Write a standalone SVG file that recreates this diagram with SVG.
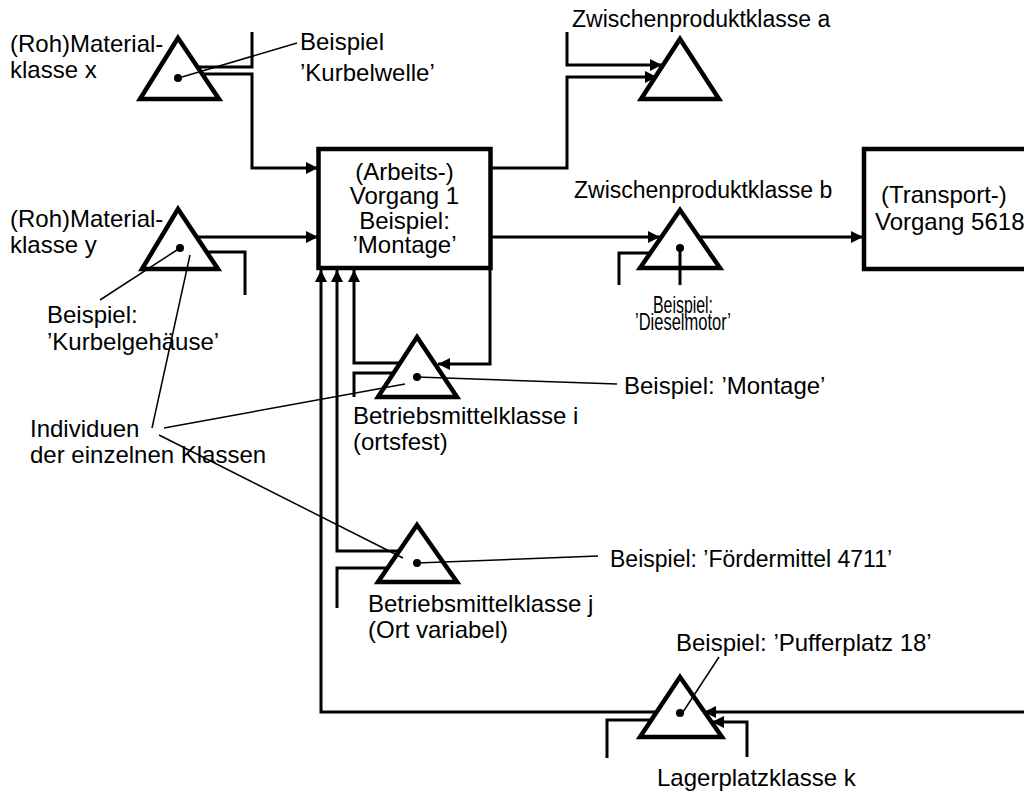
<svg xmlns="http://www.w3.org/2000/svg" width="1024" height="791" viewBox="0 0 1024 791">
<style>
text { font-family: "Liberation Sans", Arial, sans-serif; font-size: 24px; fill: #000; }
.s23 { font-size: 23px; }
.tri { fill: #fff; stroke: #000; stroke-width: 4.5; stroke-linejoin: miter; }
.box { fill: #fff; stroke: #000; stroke-width: 4.5; }
.conn { fill: none; stroke: #000; stroke-width: 3; }
.arr { marker-end: url(#ah); }
.lead { fill: none; stroke: #000; stroke-width: 1.5; }
.dot { fill: #000; }
.mid { text-anchor: middle; }
</style>
<defs>
<marker id="ah" markerWidth="12" markerHeight="12" refX="12" refY="6" orient="auto" markerUnits="userSpaceOnUse">
<path d="M0,0 L12,6 L0,12 z" fill="#000"/>
</marker>
</defs>
<rect width="1024" height="791" fill="#fff"/>

<g id="node-material-x">
<polygon class="tri" points="178,38 219,99 140,99"/>
<text x="10" y="52">(Roh)Material-</text>
<text x="10" y="78">klasse x</text>
</g>

<g id="node-material-y">
<polygon class="tri" points="178,209 218,269 142,269"/>
<text x="10" y="227">(Roh)Material-</text>
<text x="10" y="253">klasse y</text>
</g>

<g id="node-vorgang-1">
<rect class="box" x="318.5" y="149" width="172" height="119"/>
<text class="mid" x="404.5" y="180">(Arbeits-)</text>
<text class="mid" x="404.5" y="204">Vorgang 1</text>
<text class="mid" x="404.5" y="229">Beispiel:</text>
<text class="mid" x="404.5" y="253">’Montage’</text>
</g>

<g id="node-zwischen-a">
<polygon class="tri" points="680,39 719,99 641,99"/>
<text class="s23" x="572" y="27">Zwischenproduktklasse a</text>
</g>

<g id="node-zwischen-b">
<polygon class="tri" points="680,210 720,268 640,268"/>
<text class="s23" x="574" y="198">Zwischenproduktklasse b</text>
</g>

<g id="node-vorgang-5618">
<rect class="box" x="864" y="149" width="200" height="120"/>
<text x="881" y="203">(Transport-)</text>
<text x="875" y="230">Vorgang 5618</text>
</g>

<g id="node-betriebsmittel-i">
<polygon class="tri" points="417,337 457,397 378,397"/>
<text x="353" y="424">Betriebsmittelklasse i</text>
<text x="353" y="450">(ortsfest)</text>
</g>

<g id="node-betriebsmittel-j">
<polygon class="tri" points="417,525 457,582 378,582"/>
<text x="368" y="612">Betriebsmittelklasse j</text>
<text x="368" y="638">(Ort variabel)</text>
</g>

<g id="node-lagerplatz-k">
<polygon class="tri" points="680,677 722,737 640,737"/>
<text x="657" y="786">Lagerplatzklasse k</text>
</g>

<g id="connectors">
<path class="conn" d="M252,32 V67 H198"/>
<path class="conn arr" d="M202,74 H252 V168 H318"/>
<path class="conn arr" d="M197,237 H318"/>
<path class="conn" d="M207,252 H245 V295"/>
<path class="conn arr" d="M491,168 H567 V77 H657"/>
<path class="conn arr" d="M567,32 V65 H662"/>
<path class="conn arr" d="M491,237 H660"/>
<path class="conn arr" d="M699,237 H863"/>
<path class="conn" d="M650,253 H619 V285"/>
<path class="conn" d="M680,248 V285"/>
<path class="conn arr" d="M657,712 H321 V270"/>
<path class="conn arr" d="M399,551 H337 V270"/>
<path class="conn arr" d="M400,363 H354 V270"/>
<path class="conn arr" d="M490,268 V364 H438"/>
<path class="conn" d="M393,373 H354 V397"/>
<path class="conn" d="M387,568 H337 V608"/>
<path class="conn arr" d="M1024,712 H704"/>
<path class="conn arr" d="M747,757 V722 H712"/>
<path class="conn" d="M651,720 H607 V758"/>
</g>

<g id="examples">
<circle class="dot" cx="178" cy="78" r="4"/>
<circle class="dot" cx="180" cy="248" r="4"/>
<circle class="dot" cx="680" cy="248" r="4"/>
<circle class="dot" cx="417" cy="377" r="4"/>
<circle class="dot" cx="417" cy="563" r="4"/>
<circle class="dot" cx="680" cy="713" r="4"/>
<path class="lead" d="M182,77 L297,43"/>
<path class="lead" d="M180,248 L100,300"/>
<path class="lead" d="M190,255 L152,428"/>
<path class="lead" d="M164,428 L405,384"/>
<path class="lead" d="M159,435 L403,558"/>
<path class="lead" d="M417,377 L617,384"/>
<path class="lead" d="M417,563 L598,556"/>
<path class="lead" d="M683,712 L719,657"/>
<text x="300" y="50">Beispiel</text>
<text x="300" y="81">’Kurbelwelle’</text>
<text x="47" y="323">Beispiel:</text>
<text x="47" y="350">’Kurbelgehäuse’</text>
<text x="30" y="437">Individuen</text>
<text x="30" y="463">der einzelnen Klassen</text>
<text class="mid" x="683" y="313" textLength="60" lengthAdjust="spacingAndGlyphs">Beispiel:</text>
<text class="mid" x="683" y="330" textLength="96" lengthAdjust="spacingAndGlyphs">’Dieselmotor’</text>
<text x="624" y="394">Beispiel: ’Montage’</text>
<text class="s23" x="610" y="567">Beispiel: ’Fördermittel 4711’</text>
<text x="676" y="651">Beispiel: ’Pufferplatz 18’</text>
</g>
</svg>
